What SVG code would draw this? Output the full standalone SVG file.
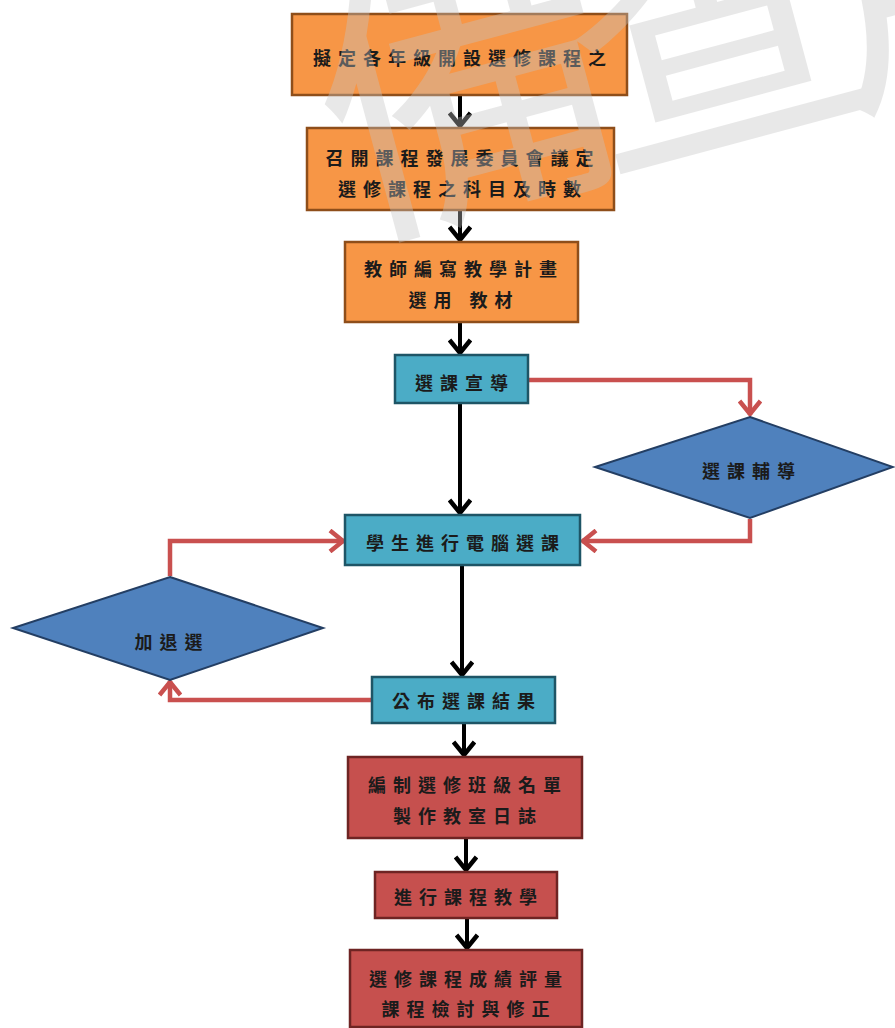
<svg xmlns="http://www.w3.org/2000/svg" width="895" height="1028" viewBox="0 0 895 1028">
<defs>
<style>
.t{font-family:"Noto Sans CJK TC","Noto Sans CJK SC",sans-serif;font-weight:bold;font-size:18px;letter-spacing:7px;fill:#1b1b1b;text-anchor:middle;dominant-baseline:central}
.or{fill:#F79646;stroke:#8E4E1A;stroke-width:2.5}
.cy{fill:#4BACC6;stroke:#1E5566;stroke-width:2.5}
.rd{fill:#C6504E;stroke:#6E2423;stroke-width:2.5}
.dm{fill:#4F81BD;stroke:#233E63;stroke-width:2}
.blk{fill:none;stroke:#000;stroke-width:4;marker-end:url(#ab)}
.red{fill:none;stroke:#C9504F;stroke-width:4.5;marker-end:url(#ar)}
.wm{font-family:"Noto Sans CJK TC","Noto Sans CJK SC",sans-serif;font-size:300px;letter-spacing:-45px;fill:#c4c4c4;opacity:0.38}
</style>
<marker id="ab" viewBox="0 0 24 24" markerWidth="24" markerHeight="24" refX="20" refY="12" orient="auto" markerUnits="userSpaceOnUse">
<path d="M6,1.5 L19,12 L6,22.5" fill="none" stroke="#000" stroke-width="4.5"/>
</marker>
<marker id="ar" viewBox="0 0 24 24" markerWidth="24" markerHeight="24" refX="20" refY="12" orient="auto" markerUnits="userSpaceOnUse">
<path d="M6,1.5 L19,12 L6,22.5" fill="none" stroke="#C9504F" stroke-width="4.5"/>
</marker>
</defs>
<rect width="895" height="1028" fill="#fff"/>
<g id="connectors">
<path class="blk" d="M460,96 V127"/>
<path class="blk" d="M460,211 V241"/>
<path class="blk" d="M460,323 V354"/>
<path class="blk" d="M460,404 V514"/>
<path class="blk" d="M462,566 V676"/>
<path class="blk" d="M464,724 V756"/>
<path class="blk" d="M466,839 V871"/>
<path class="blk" d="M467,919 V949"/>
<path class="red" d="M529,380 H750 V415"/>
<path class="red" d="M750,519 V541 H582"/>
<path class="red" d="M170,576 V541 H344"/>
<path class="red" d="M371,700 H170 V681"/>
</g>
<g id="n1"><rect class="or" x="292" y="14" width="335" height="81"/><text class="t" x="463" y="57">擬定各年級開設選修課程之</text></g>
<g id="n2"><rect class="or" x="307" y="128" width="307" height="82"/><text class="t" x="463" y="157">召開課程發展委員會議定</text><text class="t" x="463" y="188">選修課程之科目及時數</text></g>
<g id="n3"><rect class="or" x="345" y="242" width="233" height="80"/><text class="t" x="464" y="268">教師編寫教學計畫</text><text class="t" x="464" y="299">選用 教材</text></g>
<g id="n4"><rect class="cy" x="395" y="355" width="133" height="48"/><text class="t" x="465" y="382">選課宣導</text></g>
<g id="n5"><polygon class="dm" points="750,417 893,467 750,518 595,467"/><text class="t" x="752" y="470">選課輔導</text></g>
<g id="n6"><rect class="cy" x="345" y="515" width="235" height="50"/><text class="t" x="466" y="542">學生進行電腦選課</text></g>
<g id="n7"><polygon class="dm" points="170,577 323,628 170,680 13,628"/><text class="t" x="172" y="641">加退選</text></g>
<g id="n8"><rect class="cy" x="372" y="677" width="183" height="46"/><text class="t" x="467" y="700">公布選課結果</text></g>
<g id="n9"><rect class="rd" x="348" y="757" width="234" height="81"/><text class="t" x="468" y="784">編制選修班級名單</text><text class="t" x="468" y="815">製作教室日誌</text></g>
<g id="n10"><rect class="rd" x="375" y="872" width="182" height="46"/><text class="t" x="469" y="896">進行課程教學</text></g>
<g id="n11"><rect class="rd" x="350" y="950" width="232" height="77"/><text class="t" x="469" y="978">選修課程成績評量</text><text class="t" x="469" y="1008">課程檢討與修正</text></g>
<text class="wm" transform="translate(349,232) rotate(-15)">備查用</text>
</svg>
